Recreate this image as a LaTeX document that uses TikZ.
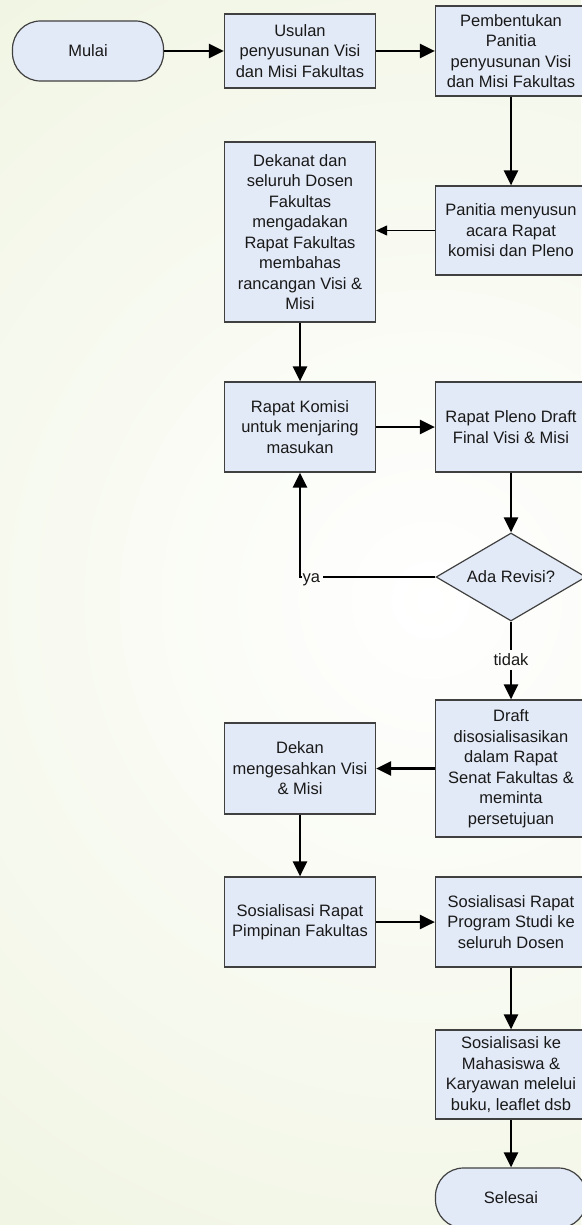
\documentclass[tikz,border=0pt]{standalone}
\usepackage{fontspec}
\setmainfont{Liberation Sans}
\usetikzlibrary{arrows.meta,shapes.geometric,calc}
\definecolor{bgout}{RGB}{236,242,218}
\definecolor{boxfill}{RGB}{227,234,247}
\definecolor{boxline}{RGB}{64,64,64}
\definecolor{txt}{RGB}{25,25,25}

\begin{document}
\begin{tikzpicture}[x=1pt,y=-1pt,
  font=\fontsize{16.5}{20.5}\selectfont,
  proc/.style={draw=boxline, line width=1.2pt, fill=boxfill, text=txt, align=center, minimum width=151pt, inner sep=2pt},
  term/.style={proc, rounded corners=28pt, minimum height=60pt},
  decision/.style={diamond, draw=boxline, line width=1.2pt, fill=boxfill, text=txt, minimum width=150pt, minimum height=88pt, inner sep=0pt, aspect=1.7},
  flow/.style={line width=2.6pt, -{Triangle[length=15pt,width=14pt]}},
  thinflow/.style={line width=1.1pt, -{Triangle[length=11pt,width=10pt]}},
  plainline/.style={line width=2.6pt},
  lbl/.style={text=txt, inner sep=0pt}
]
% page and soft background
\useasboundingbox (0,0) rectangle (581,1225);
\begin{scope}
  \clip (0,0) rectangle (581,1225);
  \shade[inner color=white, outer color=bgout] (430,600) circle (1000);
\end{scope}

% flowchart steps
\node[term] (start) at (88,51) {Mulai};
\node[proc, minimum height=74pt] (usul) at (300,51) {Usulan\\penyusunan Visi\\dan Misi Fakultas};
\node[proc, minimum height=90pt] (bentuk) at (511,51) {Pembentukan\\Panitia\\penyusunan Visi\\dan Misi Fakultas};
\node[proc, minimum height=89pt] (susun) at (511,230.5) {Panitia menyusun\\acara Rapat\\komisi dan Pleno};
\node[proc, minimum height=180pt] (rapatfak) at (300,232) {Dekanat dan\\seluruh Dosen\\Fakultas\\mengadakan\\Rapat Fakultas\\membahas\\rancangan Visi \&\\Misi};
\node[proc, minimum height=90pt] (komisi) at (300,427) {Rapat Komisi\\untuk menjaring\\masukan};
\node[proc, minimum height=90pt] (pleno) at (511,427) {Rapat Pleno Draft\\Final Visi \& Misi};
\node[decision] (revisi) at (511,577) {Ada Revisi?};
\node[lbl, inner sep=3.5pt] (tidak) at (511,660) {tidak};
\node[lbl, anchor=base west] (ya) at (302.5,582.5) {ya};
\coordinate (yaL) at (302,577);
\coordinate (yaR) at (322.5,577);
\node[proc, minimum height=137pt] (draft) at (511,768.5) {Draft\\disosialisasikan\\dalam Rapat\\Senat Fakultas \&\\meminta\\persetujuan};
\node[proc, minimum height=91pt] (sah) at (300,768.5) {Dekan\\mengesahkan Visi\\\& Misi};
\node[proc, minimum height=90pt] (pimpinan) at (300,922) {Sosialisasi Rapat\\Pimpinan Fakultas};
\node[proc, minimum height=90pt] (prodi) at (511,922) {Sosialisasi Rapat\\Program Studi ke\\seluruh Dosen};
\node[proc, minimum height=89pt] (mhs) at (511,1074.5) {Sosialisasi ke\\Mahasiswa \&\\Karyawan melelui\\buku, leaflet dsb};
\node[term] (end) at (511,1198) {Selesai};

% connectors
\draw[flow] (start.east) -- (usul.west);
\draw[flow] (usul.east) -- (bentuk.west);
\draw[flow] (bentuk.south) -- (susun.north);
\draw[thinflow] (susun.west) -- (susun.west -| rapatfak.east);
\draw[flow] (rapatfak.south) -- (komisi.north);
\draw[flow] (komisi.east) -- (pleno.west);
\draw[flow] (pleno.south) -- (revisi.north);
\draw[plainline] (revisi.west) -- (yaR);
\draw[flow] (yaL) -- (yaL -| komisi.south) -- (komisi.south);
\draw[plainline] (revisi.south) -- (tidak.north);
\draw[flow] (tidak.south) -- (draft.north);
\draw[flow] (draft.west) -- (sah.east);
\draw[flow] (sah.south) -- (pimpinan.north);
\draw[flow] (pimpinan.east) -- (prodi.west);
\draw[flow] (prodi.south) -- (mhs.north);
\draw[flow] (mhs.south) -- (end.north);
\end{tikzpicture}
\end{document}
